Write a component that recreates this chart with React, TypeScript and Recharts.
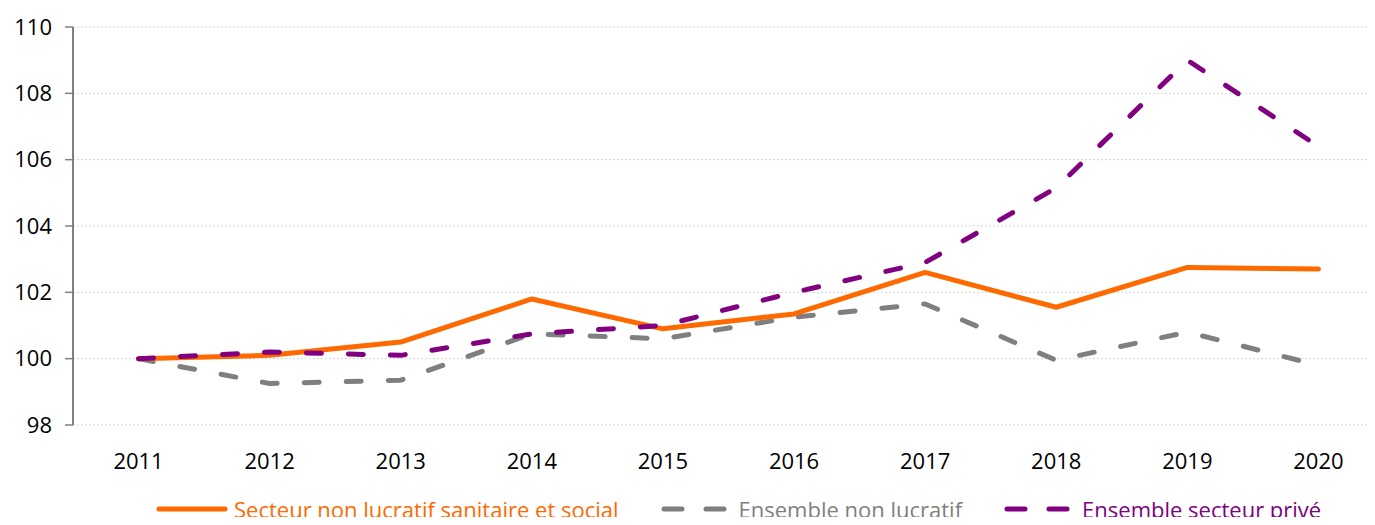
import React from "react";
import {
  LineChart,
  Line,
  XAxis,
  YAxis,
  CartesianGrid,
  Legend,
} from "recharts";

const years = ["2011", "2012", "2013", "2014", "2015", "2016", "2017", "2018", "2019", "2020"];
const sanitaireSocial = [100, 100.1, 100.5, 101.8, 100.9, 101.35, 102.6, 101.55, 102.75, 102.7];
const nonLucratif = [100, 99.25, 99.35, 100.75, 100.6, 101.25, 101.65, 99.95, 100.8, 99.8];
const secteurPrive = [100, 100.2, 100.1, 100.75, 101.0, 102.0, 102.9, 105.15, 109.0, 106.4];
const yTicks = [98, 100, 102, 104, 106, 108, 110];

const series = [
  { key: "nonLucratif", name: "Ensemble non lucratif", color: "#7f7f7f", dash: "15 27" },
  { key: "sanitaireSocial", name: "Secteur non lucratif sanitaire et social", color: "#ff6a00", dash: undefined },
  { key: "secteurPrive", name: "Ensemble secteur privé", color: "#800080", dash: "15 27" },
];
const legendOrder = ["sanitaireSocial", "nonLucratif", "secteurPrive"];

const data = years.map((year, i) => ({
  year,
  sanitaireSocial: sanitaireSocial[i],
  nonLucratif: nonLucratif[i],
  secteurPrive: secteurPrive[i],
}));
const bandEdges = years.map((_, i) => i).concat(years.length);

const CHART_W = 1384;
const CHART_H = 525;
const Y_AXIS_W = 73;
const halfBand = (CHART_W - Y_AXIS_W) / years.length / 2;
const FONT = "'Open Sans', 'Noto Sans', sans-serif";
const AXIS_COLOR = "#808080";

const renderLegend = () => (
  <div
    style={{
      display: "flex",
      alignItems: "flex-start",
      height: 40,
      paddingLeft: 156,
      fontFamily: FONT,
      fontSize: 22,
      lineHeight: "22px",
    }}
  >
    {legendOrder.map((k) => {
      const s = series.find((x) => x.key === k)!;
      return (
        <div key={k} style={{ display: "flex", alignItems: "center", height: 22, marginRight: 42 }}>
          <svg width={72} height={10} style={{ marginRight: 6 }}>
            <line
              x1={3}
              y1={5}
              x2={69}
              y2={5}
              stroke={s.color}
              strokeWidth={5}
              strokeLinecap="round"
              strokeDasharray={s.dash ? "18 24" : undefined}
            />
          </svg>
          <span style={{ color: s.color, whiteSpace: "nowrap" }}>{s.name}</span>
        </div>
      );
    })}
  </div>
);

const App: React.FC = () => {
  return (
    <div style={{ margin: -8, width: 1375, height: CHART_H, overflow: "hidden", background: "#fff", position: "relative" }}>
      <LineChart
        width={CHART_W}
        height={CHART_H}
        data={data}
        margin={{ top: 27, right: 0, left: 0, bottom: 0 }}
      >
        <CartesianGrid
          xAxisId="cat"
          vertical={false}
          stroke="#d4d4d4"
          strokeDasharray="2 2"
        />
        <XAxis
          xAxisId="band"
          type="number"
          domain={[0, years.length]}
          ticks={bandEdges}
          allowDataOverflow
          height={0}
          tick={false}
          tickSize={8}
          tickLine={{ stroke: AXIS_COLOR, strokeWidth: 1.5 }}
          axisLine={{ stroke: AXIS_COLOR, strokeWidth: 2 }}
        />
        <XAxis
          xAxisId="cat"
          dataKey="year"
          interval={0}
          height={60}
          axisLine={false}
          tickLine={false}
          tickSize={0}
          tickMargin={28}
          padding={{ left: halfBand, right: halfBand }}
          tick={{ fill: "#000", fontSize: 22, fontFamily: FONT }}
        />
        <YAxis
          width={Y_AXIS_W}
          domain={[98, 110]}
          ticks={yTicks}
          interval={0}
          tickSize={8}
          tickMargin={13}
          axisLine={{ stroke: AXIS_COLOR, strokeWidth: 2 }}
          tickLine={{ stroke: AXIS_COLOR, strokeWidth: 1.5 }}
          tick={{ fill: "#000", fontSize: 22, fontFamily: FONT }}
        />
        {series.map((s) => (
          <Line
            key={s.key}
            xAxisId="cat"
            type="linear"
            dataKey={s.key}
            name={s.name}
            stroke={s.color}
            strokeWidth={5}
            strokeDasharray={s.dash}
            strokeLinecap="round"
            strokeLinejoin="round"
            dot={false}
            activeDot={false}
            isAnimationActive={false}
          />
        ))}
        <Legend
          verticalAlign="bottom"
          height={40}
          content={renderLegend}
          wrapperStyle={{ position: "absolute", top: 498, left: 0, bottom: "auto", width: CHART_W, height: 40 }}
        />
      </LineChart>
    </div>
  );
};

export default App;
